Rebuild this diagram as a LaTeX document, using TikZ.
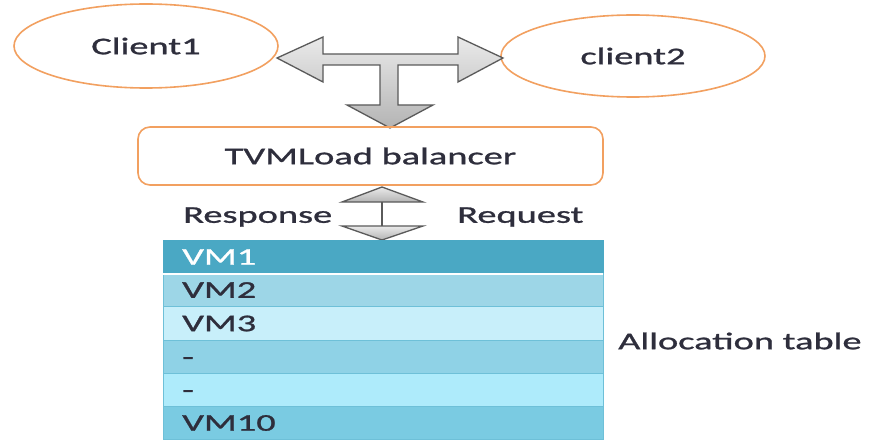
\documentclass[tikz,border=0pt]{standalone}
\usepackage{fontspec}
\setmainfont[FakeStretch=1.6,FakeBold=1.1]{Carlito}
\usetikzlibrary{shapes.geometric}
\definecolor{orangeline}{HTML}{F2A060}
\definecolor{txt}{HTML}{2E2E3C}
\definecolor{arrline}{HTML}{5A5A5A}
\definecolor{arrtop}{HTML}{EAEAEA}
\definecolor{arrbot}{HTML}{B4B4B4}
\definecolor{rowA}{HTML}{4AA8C4}
\definecolor{rowB}{HTML}{9DD6E7}
\definecolor{rowC}{HTML}{C8EFFA}
\definecolor{rowD}{HTML}{8FD2E6}
\definecolor{rowE}{HTML}{AEEBFB}
\definecolor{rowF}{HTML}{7ACBE2}
\definecolor{sepline}{HTML}{6EC0D8}
\begin{document}
\begin{tikzpicture}[x=1pt,y=-1pt,
  lbl/.style={font=\fontsize{24}{28}\selectfont, text=txt},
  clientshape/.style={ellipse, draw=orangeline, line width=1.6pt, inner sep=0pt, lbl},
  boxshape/.style={draw=orangeline, line width=1.6pt, rounded corners=12pt, lbl},
  bigarrow/.style={draw=arrline, line width=1.3pt, top color=arrtop, bottom color=arrbot},
  rowbox/.style={minimum width=440pt, minimum height=33.3pt, inner sep=0pt, draw=sepline, line width=0.8pt},
  rowtxt/.style={lbl, anchor=west, inner sep=0pt}
]
\useasboundingbox (0,0) rectangle (870,441);
\fill[white] (0,0) rectangle (870,441);

% clients
\node[clientshape, minimum width=264pt, minimum height=84pt] (c1) at (146,46) {Client1};
\node[clientshape, minimum width=264pt, minimum height=82pt] (c2) at (633,56) {client2};

% T arrow
\path[bigarrow] (277,58) -- (323,37) -- (323,54) -- (458,54) -- (458,37) -- (503,58)
  -- (458,82) -- (458,65) -- (398,65) -- (398,105) -- (433,105) -- (390,128)
  -- (347,105) -- (380,105) -- (380,65) -- (323,65) -- (323,82) -- cycle;

% balancer
\node[boxshape, minimum width=465pt, minimum height=58pt] (lb) at (370.5,156) {TVMLoad balancer};

% lower double arrow
\path[bigarrow] (382,187) -- (423,202) -- (342,202) -- cycle;
\draw[arrline, line width=2.6pt] (382,202) -- (382,226);
\path[bigarrow] (342,226) -- (423,226) -- (382,240) -- cycle;

\node[lbl, anchor=west, inner sep=0pt] (resp) at (183,217) {Response};
\node[lbl, anchor=west, inner sep=0pt] (req) at (457,217) {Request};

% table
\node[rowbox, fill=rowA, draw=rowA] (r1) at (383,256.7) {};
\node[rowbox, fill=rowB] (r2) at (383,290) {};
\node[rowbox, fill=rowC] (r3) at (383,323.3) {};
\node[rowbox, fill=rowD] (r4) at (383,356.6) {};
\node[rowbox, fill=rowE] (r5) at (383,389.9) {};
\node[rowbox, fill=rowF] (r6) at (383,423.2) {};
\draw[white, line width=2pt] (r1.south west) -- (r1.south east);

\node[rowtxt, text=white] (t1) at (182,257) {VM1};
\node[rowtxt] (t2) at (182,290) {VM2};
\node[rowtxt] (t3) at (182,323.5) {VM3};
\node[rowtxt] (t4) at (182,361) {-};
\node[rowtxt] (t5) at (182,394) {-};
\node[rowtxt] (t6) at (182,423) {VM10};

\node[lbl, anchor=west, inner sep=0pt] (alloc) at (618,341) {Allocation table};
\end{tikzpicture}
\end{document}
